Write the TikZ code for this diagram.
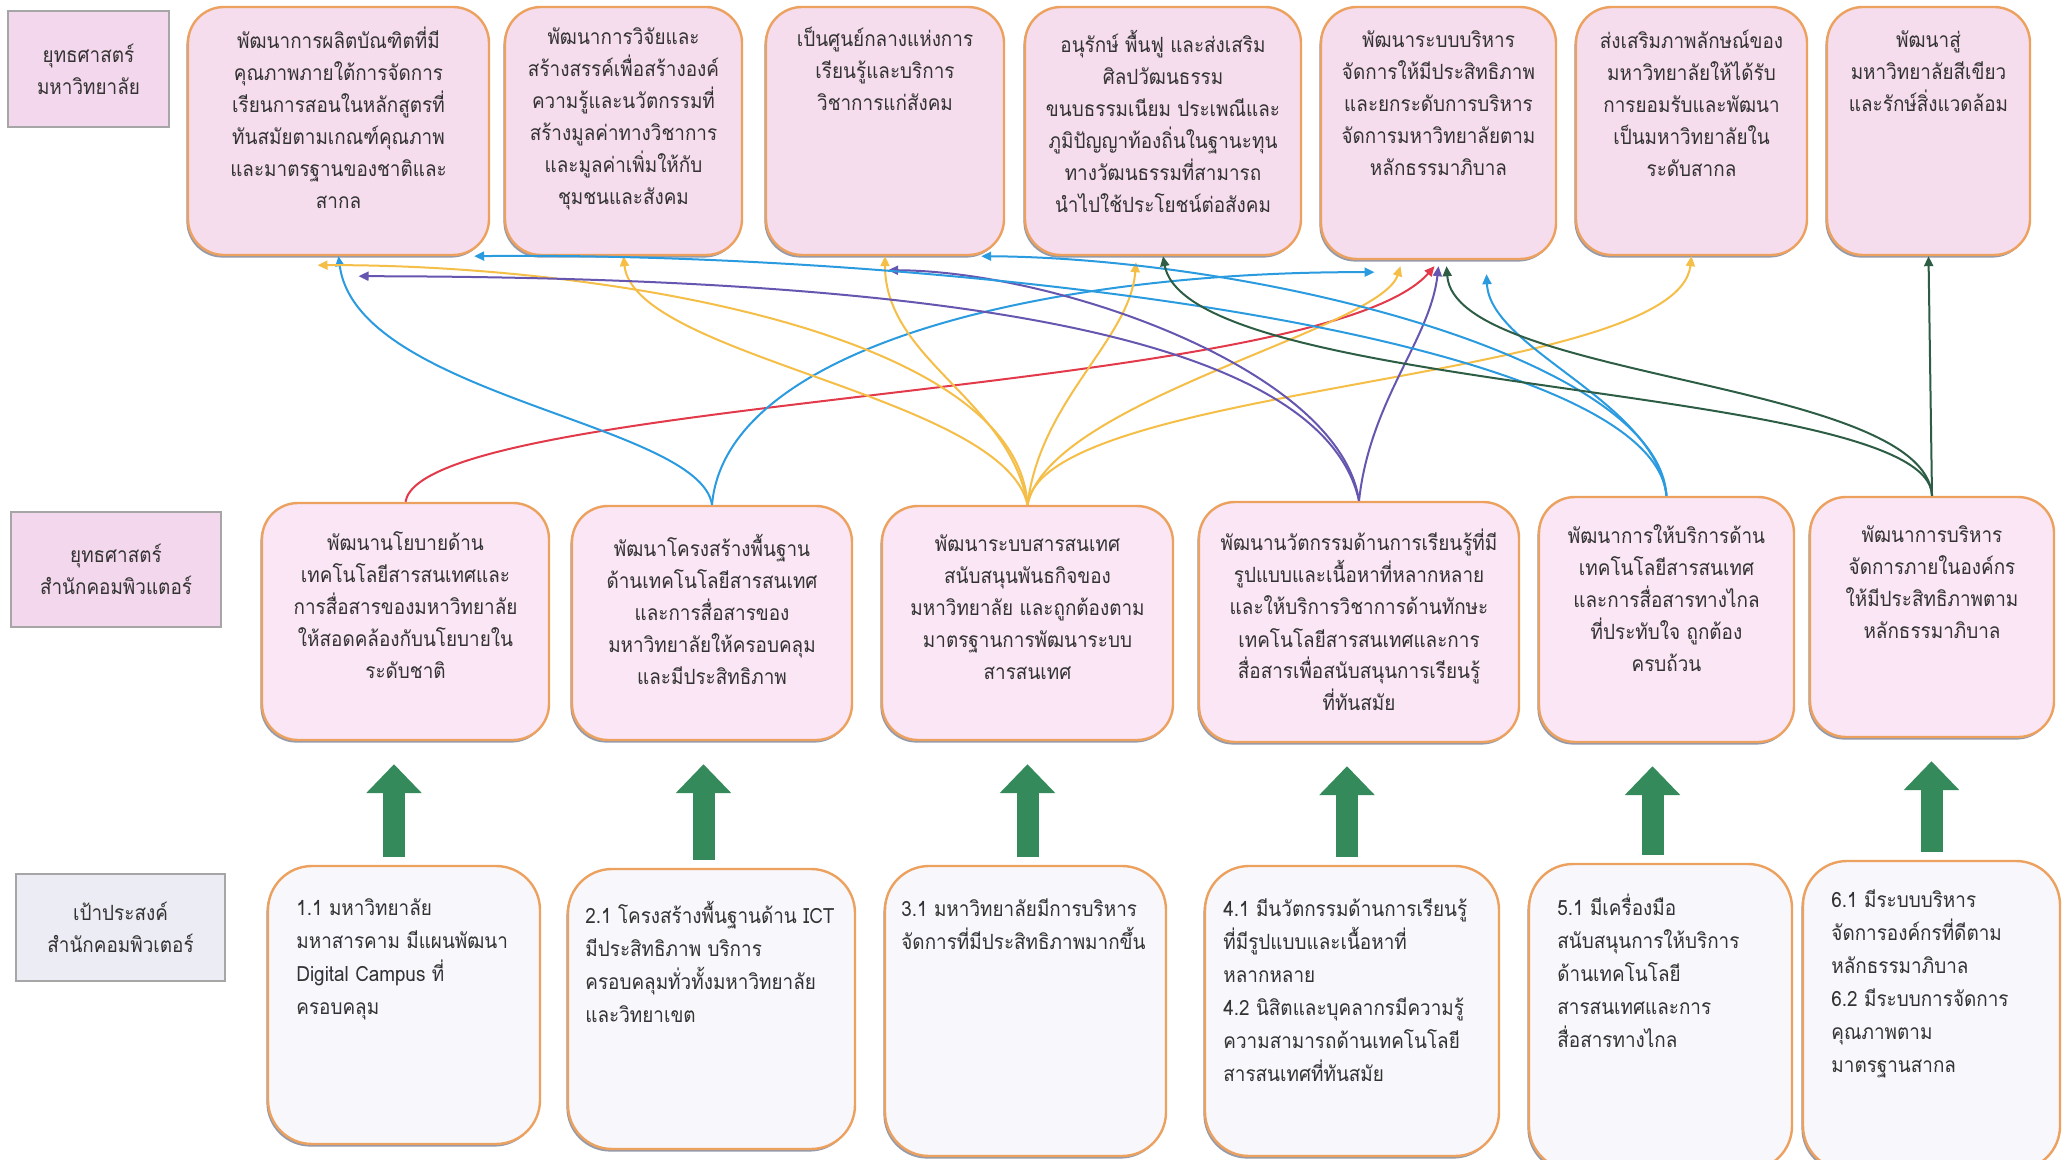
\documentclass[tikz,border=0pt]{standalone}
\usepackage{fontspec}
\setmainfont[Script=Thai, FakeStretch=0.9]{Loma}
\usepackage{tikz}
\usetikzlibrary{arrows.meta, shadows}

\definecolor{boxline}{HTML}{EDA15F}
\definecolor{toppink}{HTML}{F6DDEE}
\definecolor{midpink}{HTML}{FAE6F5}
\definecolor{lowfill}{HTML}{F7F7FC}
\definecolor{headpink}{HTML}{F3D7EC}
\definecolor{headgrey}{HTML}{ECECF4}
\definecolor{shadowblue}{HTML}{66708A}
\definecolor{textgrey}{HTML}{333333}
\definecolor{upgreen}{HTML}{358A5B}
\definecolor{lnblue}{HTML}{2B9BE0}
\definecolor{lnyellow}{HTML}{F5BE47}
\definecolor{lnred}{HTML}{E23A4A}
\definecolor{lnpurple}{HTML}{6656B0}
\definecolor{lngreen}{HTML}{2D5E45}

\tikzset{
  topbox/.style={draw=boxline, line width=1.2pt, fill=toppink, rounded corners=18pt,
    drop shadow={shadow xshift=-0.8pt, shadow yshift=-1.3pt, fill=shadowblue, opacity=0.7}},
  midbox/.style={topbox, fill=midpink},
  lowbox/.style={topbox, fill=lowfill, rounded corners=22pt},
  headbox/.style={draw=gray!70, line width=0.8pt, fill=headpink, text=textgrey, align=center,
    font=\fontsize{10.5}{16}\selectfont},
  boxtext/.style={inner sep=0pt, text=textgrey, align=center, font=\fontsize{10.5}{16}\selectfont},
  lowtext/.style={boxtext, align=left, anchor=north west, font=\fontsize{10.5}{16.5}\selectfont},
  link/.style={line width=1pt, -{Triangle[length=5pt,width=4.5pt]}},
  uparrow/.style={draw=upgreen, line width=11pt, -{Triangle[length=14.5pt,width=27pt]},
    shorten >=11.5pt, shorten <=4pt}
}

\begin{document}
\begin{tikzpicture}[x=0.5pt, y=-0.5pt]
\fill[white] (0,0) rectangle (2071,1160);
\useasboundingbox (0,0) rectangle (2071,1160);

% row headings
\node[headbox, minimum width=80.5pt, minimum height=58pt] (h1) at (88.5,69) {ยุทธศาสตร์\\มหาวิทยาลัย};
\node[headbox, minimum width=105pt, minimum height=57.5pt] (h2) at (116,569.5) {ยุทธศาสตร์\\สำนักคอมพิวแตอร์};
\node[headbox, fill=headgrey, minimum width=104.5pt, minimum height=53.5pt] (h3) at (120.5,927.5) {เป้าประสงค์\\สำนักคอมพิวเตอร์};

% university strategies
\node[topbox, minimum width=150.5pt, minimum height=124pt] (t1) at (338.5,131) {};
\node[topbox, minimum width=118.5pt, minimum height=124pt] (t2) at (623.5,131) {};
\node[topbox, minimum width=119pt, minimum height=124pt] (t3) at (885,131) {};
\node[topbox, minimum width=138pt, minimum height=124pt] (t4) at (1163,131) {};
\node[topbox, minimum width=117.5pt, minimum height=126pt] (t5) at (1438.5,133) {};
\node[topbox, minimum width=115.5pt, minimum height=124pt] (t6) at (1691.5,131) {};
\node[topbox, minimum width=101.5pt, minimum height=124pt] (t7) at (1928.5,131) {};
\node[boxtext, anchor=north] (t1l) at (338.5,27) {พัฒนาการผลิตบัณฑิตที่มี\\คุณภาพภายใต้การจัดการ\\เรียนการสอนในหลักสูตรที่\\ทันสมัยตามเกณฑ์คุณภาพ\\และมาตรฐานของชาติและ\\สากล};
\node[boxtext, anchor=north] (t2l) at (623.5,27) {พัฒนาการวิจัยและ\\สร้างสรรค์เพื่อสร้างองค์\\ความรู้และนวัตกรรมที่\\สร้างมูลค่าทางวิชาการ\\และมูลค่าเพิ่มให้กับ\\ชุมชนและสังคม};
\node[boxtext, anchor=north] (t3l) at (885,27) {เป็นศูนย์กลางแห่งการ\\เรียนรู้และบริการ\\วิชาการแก่สังคม};
\node[boxtext, anchor=north] (t4l) at (1163,30) {อนุรักษ์ พื้นฟู และส่งเสริม\\ศิลปวัฒนธรรม\\ขนบธรรมเนียม ประเพณีและ\\ภูมิปัญญาท้องถิ่นในฐานะทุน\\ทางวัฒนธรรมที่สามารถ\\นำไปใช้ประโยชน์ต่อสังคม};
\node[boxtext, anchor=north] (t5l) at (1438.5,30) {พัฒนาระบบบริหาร\\จัดการให้มีประสิทธิภาพ\\และยกระดับการบริหาร\\จัดการมหาวิทยาลัยตาม\\หลักธรรมาภิบาล};
\node[boxtext, anchor=north] (t6l) at (1691.5,30) {ส่งเสริมภาพลักษณ์ของ\\มหาวิทยาลัยให้ได้รับ\\การยอมรับและพัฒนา\\เป็นมหาวิทยาลัยใน\\ระดับสากล};
\node[boxtext, anchor=north] (t7l) at (1928.5,30) {พัฒนาสู่\\มหาวิทยาลัยสีเขียว\\และรักษ์สิ่งแวดล้อม};

% computer centre strategies
\node[midbox, minimum width=143.5pt, minimum height=118.5pt] (m1) at (405.5,621.5) {};
\node[midbox, minimum width=140pt, minimum height=117pt] (m2) at (712,623) {};
\node[midbox, minimum width=145.5pt, minimum height=117pt] (m3) at (1027.5,623) {};
\node[midbox, minimum width=160pt, minimum height=120pt] (m4) at (1359,622) {};
\node[midbox, minimum width=127.5pt, minimum height=122.5pt] (m5) at (1666.5,619.5) {};
\node[midbox, minimum width=122pt, minimum height=120pt] (m6) at (1932,617) {};
\node[boxtext, anchor=north] (m1l) at (405.5,531) {พัฒนานโยบายด้าน\\เทคโนโลยีสารสนเทศและ\\การสื่อสารของมหาวิทยาลัย\\ให้สอดคล้องกับนโยบายใน\\ระดับชาติ};
\node[boxtext, anchor=north] (m2l) at (712,534) {พัฒนาโครงสร้างพื้นฐาน\\ด้านเทคโนโลยีสารสนเทศ\\และการสื่อสารของ\\มหาวิทยาลัยให้ครอบคลุม\\และมีประสิทธิภาพ};
\node[boxtext, anchor=north] (m3l) at (1027.5,534) {พัฒนาระบบสารสนเทศ\\สนับสนุนพันธกิจของ\\มหาวิทยาลัย และถูกต้องตาม\\มาตรฐานการพัฒนาระบบ\\สารสนเทศ};
\node[boxtext, anchor=north] (m4l) at (1359,529) {พัฒนานวัตกรรมด้านการเรียนรู้ที่มี\\รูปแบบและเนื้อหาที่หลากหลาย\\และให้บริการวิชาการด้านทักษะ\\เทคโนโลยีสารสนเทศและการ\\สื่อสารเพื่อสนับสนุนการเรียนรู้\\ที่ทันสมัย};
\node[boxtext, anchor=north] (m5l) at (1666.5,524) {พัฒนาการให้บริการด้าน\\เทคโนโลยีสารสนเทศ\\และการสื่อสารทางไกล\\ที่ประทับใจ ถูกต้อง\\ครบถ้วน};
\node[boxtext, anchor=north] (m6l) at (1932,525) {พัฒนาการบริหาร\\จัดการภายในองค์กร\\ให้มีประสิทธิภาพตาม\\หลักธรรมาภิบาล};

% goals
\node[lowbox, minimum width=136pt, minimum height=139pt] (b1) at (404,1005) {};
\node[lowbox, minimum width=143.5pt, minimum height=140pt] (b2) at (711.5,1009) {};
\node[lowbox, minimum width=140.5pt, minimum height=145pt] (b3) at (1025.5,1011) {};
\node[lowbox, minimum width=147pt, minimum height=145pt] (b4) at (1352,1011) {};
\node[lowbox, minimum width=131.5pt, minimum height=153pt] (b5) at (1660.5,1017) {};
\node[lowbox, minimum width=128.5pt, minimum height=154.5pt] (b6) at (1931.5,1015.5) {};
\node[lowtext] (b1l) at (296,898) {1.1 มหาวิทยาลัย\\มหาสารคาม มีแผนพัฒนา\\Digital Campus ที่\\ครอบคลุม};
\node[lowtext] (b2l) at (585,901) {2.1 โครงสร้างพื้นฐานด้าน ICT\\มีประสิทธิภาพ บริการ\\ครอบคลุมทั่วทั้งมหาวิทยาลัย\\และวิทยาเขต};
\node[lowtext] (b3l) at (901,898) {3.1 มหาวิทยาลัยมีการบริหาร\\จัดการที่มีประสิทธิภาพมากขึ้น};
\node[lowtext] (b4l) at (1223,898) {4.1 มีนวัตกรรมด้านการเรียนรู้\\ที่มีรูปแบบและเนื้อหาที่\\หลากหลาย\\4.2 นิสิตและบุคลากรมีความรู้\\ความสามารถด้านเทคโนโลยี\\สารสนเทศที่ทันสมัย};
\node[lowtext] (b5l) at (1557,893) {5.1 มีเครื่องมือ\\สนับสนุนการให้บริการ\\ด้านเทคโนโลยี\\สารสนเทศและการ\\สื่อสารทางไกล};
\node[lowtext] (b6l) at (1831,889) {6.1 มีระบบบริหาร\\จัดการองค์กรที่ดีตาม\\หลักธรรมาภิบาล\\6.2 มีระบบการจัดการ\\คุณภาพตาม\\มาตรฐานสากล};

% goals up to strategies
\draw[uparrow] ([xshift=-5pt]b1.north) -- ([xshift=-5pt]b1.north |- m1.south);
\draw[uparrow] ([xshift=-4pt]b2.north) -- ([xshift=-4pt]b2.north |- m2.south);
\draw[uparrow] ([xshift=1pt]b3.north) -- ([xshift=1pt]b3.north |- m3.south);
\draw[uparrow] ([xshift=-2.5pt]b4.north) -- ([xshift=-2.5pt]b4.north |- m4.south);
\draw[uparrow] ([xshift=-4pt]b5.north) -- ([xshift=-4pt]b5.north |- m5.south);
\draw[uparrow] (b6.north) -- (b6.north |- m6.south);

% links to university strategies
\draw[link, lnred] (m1.north) .. controls (423,396) and (1321,396) .. ([xshift=-2pt,yshift=-3pt]t5.south);
\draw[link, lnblue] (m2.north) .. controls (700,423) and (357,396) .. (t1.south);
\draw[link, lnblue] (m2.north) .. controls (726,343) and (1057,271) .. ([xshift=-32pt,yshift=-6pt]t5.south);
\draw[link, lnyellow] (m3.north) .. controls (1017,330) and (594,264) .. ([xshift=-10.5pt,yshift=-4.5pt]t1.south);
\draw[link, lnyellow] (m3.north) .. controls (1004,396) and (634,357) .. (t2.south);
\draw[link, lnyellow] (m3.north) .. controls (1010,400) and (885,360) .. (t3.south);
\draw[link, lnyellow] (m3.north) .. controls (1040,400) and (1130,340) .. ([xshift=-13.5pt,yshift=-3pt]t4.south);
\draw[link, lnyellow] (m3.north) .. controls (1050,400) and (1380,330) .. ([xshift=-19pt,yshift=-3pt]t5.south);
\draw[link, lnyellow] (m3.north) .. controls (1043,383) and (1677,383) .. (t6.south);
\draw[link, lnpurple] (m4.north) .. controls (1321,330) and (925,277) .. ([xshift=10pt,yshift=-10pt]t1.south);
\draw[link, lnpurple] (m4.north) .. controls (1340,370) and (1057,271) .. ([xshift=1.5pt,yshift=-7pt]t3.south);
\draw[link, lnpurple] (m4.north) .. controls (1370,400) and (1430,340) .. ([yshift=-3pt]t5.south);
\draw[link, lnblue] (m5.north) .. controls (1651,330) and (925,251) .. ([xshift=-8pt]t1.south east);
\draw[link, lnblue] (m5.north) .. controls (1658,357) and (1255,258) .. ([xshift=-12pt]t3.south east);
\draw[link, lnblue] (m5.north) .. controls (1655,400) and (1490,350) .. ([xshift=24pt,yshift=-7pt]t5.south);
\draw[link, lngreen] (m6.north) .. controls (1931,383) and (1189,396) .. (t4.south);
\draw[link, lngreen] (m6.north) .. controls (1925,380) and (1455,380) .. ([xshift=4pt,yshift=-3pt]t5.south);
\draw[link, lngreen] (m6.north) -- (t7.south);
\end{tikzpicture}
\end{document}
